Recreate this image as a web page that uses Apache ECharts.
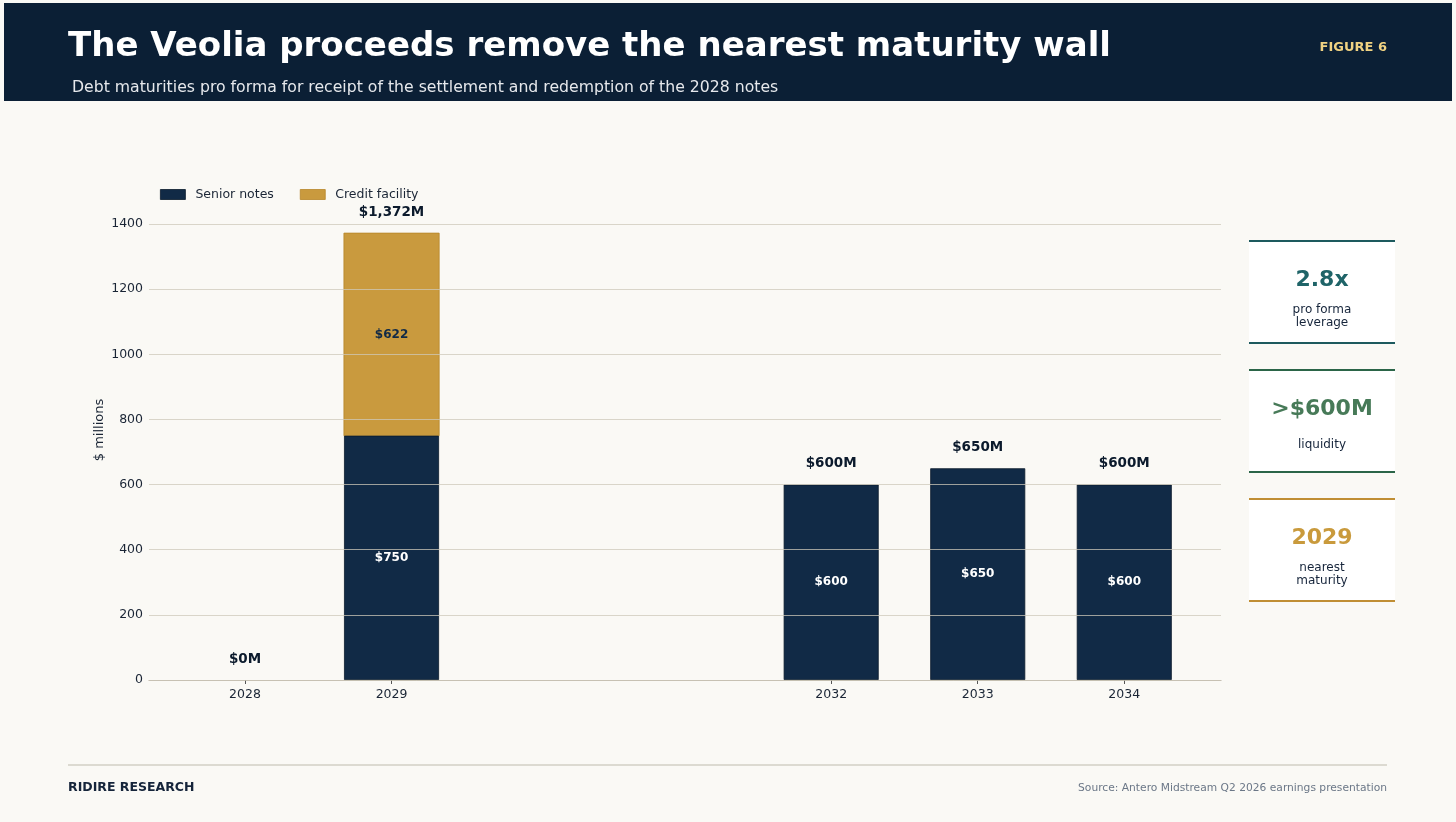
<!DOCTYPE html>
<html>
<head>
<meta charset="utf-8">
<script src="https://cdn.jsdelivr.net/npm/echarts@6/dist/echarts.min.js"></script>
<style>
  html, body { margin: 0; padding: 0; background: #faf9f5; }
  #chart { width: 1456px; height: 822px; }
</style>
</head>
<body>
<div id="chart"></div>
<script>
// maturity data ($ millions)
var years = [2028, 2029, 2032, 2033, 2034];
var seniorNotes = [0, 750, 600, 650, 600];
var creditFacility = [0, 622, 0, 0, 0];
var totals = [0, 1372, 600, 650, 600];
var yTicks = [0, 200, 400, 600, 800, 1000, 1200, 1400];

var cards = [
    { value: '2.8x', label: 'pro forma\nleverage', color: '#1f6468', line: '#1d5a5e' },
    { value: '>$600M', label: 'liquidity', color: '#477a58', line: '#2b6548' },
    { value: '2029', label: 'nearest\nmaturity', color: '#c99a3c', line: '#c08e34' }
];

var FONT = 'DejaVu Sans';
var NAVY = '#112a46';
var GOLD = '#c99a3e';
var BAR_YEARS = 0.65; // bar width in years

var initChart = function () {
    var myChart = echarts.init(document.getElementById('chart'));

    // senior notes: [year, value], skip empty years
    var seniorData = [];
    years.forEach(function (y, i) {
        if (seniorNotes[i] > 0) seniorData.push([y, seniorNotes[i]]);
    });
    // credit facility sits on top of senior notes: [year, base, value]
    var creditData = [];
    years.forEach(function (y, i) {
        if (creditFacility[i] > 0) creditData.push([y, seniorNotes[i], creditFacility[i]]);
    });
    var totalData = years.map(function (y, i) { return [y, totals[i]]; });

    var graphics = [
        // header band
        { type: 'rect', shape: { x: 4, y: 3, width: 1448, height: 98 }, style: { fill: '#0b1f35' } },
        { type: 'text', left: 68, top: 30, style: { text: 'The Veolia proceeds remove the nearest maturity wall', fill: '#ffffff', font: 'bold 34px "DejaVu Sans"' } },
        { type: 'text', left: 72, top: 80, style: { text: 'Debt maturities pro forma for receipt of the settlement and redemption of the 2028 notes', fill: '#e6e8ec', font: '15.7px "DejaVu Sans"' } },
        { type: 'text', right: 69, top: 41, style: { text: 'FIGURE 6', fill: '#f0d282', font: 'bold 13px "DejaVu Sans"' } },
        // footer
        { type: 'line', shape: { x1: 68, y1: 765, x2: 1387, y2: 765 }, style: { stroke: '#d2cfc4', lineWidth: 1.5 } },
        { type: 'text', left: 68, top: 781, style: { text: 'RIDIRE RESEARCH', fill: '#15243a', font: 'bold 12.5px "DejaVu Sans"' } },
        { type: 'text', right: 69, top: 783, style: { text: 'Source: Antero Midstream Q2 2026 earnings presentation', fill: '#6b7787', font: '10.7px "DejaVu Sans"' } }
    ];

    cards.forEach(function (c, i) {
        var y0 = 241 + i * 129;
        graphics.push(
            { type: 'rect', shape: { x: 1249, y: y0, width: 146, height: 102 }, style: { fill: '#ffffff' } },
            { type: 'line', shape: { x1: 1249, y1: y0, x2: 1395, y2: y0 }, style: { stroke: c.line, lineWidth: 2 } },
            { type: 'line', shape: { x1: 1249, y1: y0 + 102, x2: 1395, y2: y0 + 102 }, style: { stroke: c.line, lineWidth: 2 } },
            { type: 'text', x: 1322, y: y0 + 39, style: { text: c.value, fill: c.color, font: 'bold 22px "DejaVu Sans"', align: 'center', verticalAlign: 'middle' } },
            { type: 'text', x: 1322, y: y0 + 75, style: { text: c.label, fill: '#15243a', font: '12px "DejaVu Sans"', align: 'center', verticalAlign: 'middle', lineHeight: 13 } }
        );
    });

    var option = {
        backgroundColor: '#faf9f5',
        textStyle: { fontFamily: FONT },
        animation: false,
        graphic: graphics,
        legend: {
            left: 155,
            top: 183,
            icon: 'rect',
            itemWidth: 25,
            itemHeight: 10,
            itemGap: 26,
            textStyle: { fontSize: 12.5, color: '#1a2535', fontFamily: FONT, padding: [0, 0, 0, 5] },
            data: [
                { name: 'Senior notes', itemStyle: { color: NAVY, borderColor: '#0a1a2c', borderWidth: 0.8 } },
                { name: 'Credit facility', itemStyle: { color: GOLD, borderColor: '#b8862a', borderWidth: 0.8 } }
            ]
        },
        grid: { left: 149, right: 235, top: 224, bottom: 142 },
        xAxis: {
            type: 'value',
            min: 2027.345,
            max: 2034.66,
            splitLine: { show: false },
            axisLine: { show: true, onZero: false, lineStyle: { color: '#b5ad9e', width: 1 } },
            axisTick: { show: true, customValues: years, length: 4, lineStyle: { color: '#555' } },
            axisLabel: { customValues: years, color: '#1a2535', fontSize: 12.5, margin: 8, fontFamily: FONT,
                formatter: function (v) { return String(v); } }
        },
        yAxis: {
            type: 'value',
            min: 0,
            max: 1400,
            interval: 200,
            z: 3,
            name: '$ millions',
            nameLocation: 'middle',
            nameGap: 43,
            nameMoveOverlap: false,
            nameTextStyle: { fontSize: 13, color: '#1a2535', fontFamily: FONT, padding: [0, 0, 0, 44] },
            axisLine: { show: false },
            axisTick: { show: false },
            axisLabel: { color: '#1a2535', fontSize: 12.5, margin: 6, fontFamily: FONT,
                formatter: function (v) { return yTicks.indexOf(v) >= 0 ? String(v) : ''; } },
            splitLine: { show: true, lineStyle: { color: 'rgba(205,200,185,0.75)', width: 1 } }
        },
        series: [
            {
                name: 'Senior notes',
                type: 'bar',
                barWidth: 95,
                data: seniorData,
                itemStyle: { color: NAVY, borderColor: '#0a1a2c', borderWidth: 0.8 },
                label: {
                    show: true,
                    position: 'inside',
                    color: '#ffffff',
                    fontWeight: 'bold',
                    fontSize: 12,
                    fontFamily: FONT,
                    formatter: function (p) { return '$' + p.value[1]; }
                }
            },
            {
                name: 'Credit facility',
                type: 'custom',
                data: creditData,
                encode: { x: 0, y: [1, 2] },
                itemStyle: { color: GOLD },
                renderItem: function (params, api) {
                    var x = api.value(0);
                    var base = api.value(1);
                    var v = api.value(2);
                    var top = api.coord([x, base + v]);
                    var bot = api.coord([x, base]);
                    var w = api.size([BAR_YEARS, 0])[0];
                    return {
                        type: 'rect',
                        shape: { x: top[0] - w / 2, y: top[1], width: w, height: bot[1] - top[1] },
                        style: { fill: GOLD, stroke: '#b8862a', lineWidth: 0.8 },
                        textContent: {
                            style: { text: '$' + v, fill: NAVY, font: 'bold 12px "DejaVu Sans"' }
                        },
                        textConfig: { position: 'inside' }
                    };
                }
            },
            {
                name: 'Total',
                type: 'scatter',
                symbolSize: 0,
                data: totalData,
                z: 5,
                itemStyle: { opacity: 1 },
                label: {
                    show: true,
                    position: 'top',
                    distance: 14,
                    color: '#0b1a2c',
                    fontWeight: 'bold',
                    fontSize: 13.5,
                    fontFamily: FONT,
                    formatter: function (p) {
                        return '$' + p.value[1].toString().replace(/\B(?=(\d{3})+(?!\d))/g, ',') + 'M';
                    }
                }
            }
        ]
    };
    myChart.setOption(option);
};

initChart();
</script>
</body>
</html>
